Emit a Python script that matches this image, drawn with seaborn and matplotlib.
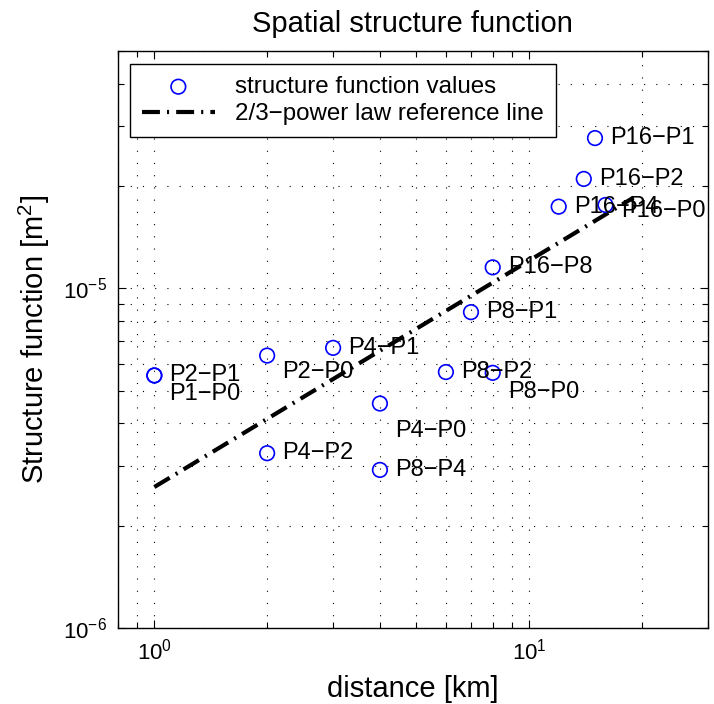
import numpy as np
import pandas as pd
import matplotlib
matplotlib.use("Agg")
import matplotlib.pyplot as plt
from matplotlib.ticker import NullFormatter
import seaborn as sns

# === Data ===
pair_labels = ["P2−P1", "P1−P0", "P2−P0", "P4−P2", "P4−P1", "P4−P0", "P8−P4",
               "P8−P2", "P8−P1", "P8−P0", "P16−P8", "P16−P4", "P16−P2",
               "P16−P1", "P16−P0"]
distance_km = [1, 1, 2, 2, 3, 4, 4, 6, 7, 8, 8, 12, 14, 15, 16]
structure_fn = [5.54e-6, 5.54e-6, 6.34e-6, 3.27e-6, 6.68e-6, 4.58e-6, 2.92e-6,
                5.67e-6, 8.51e-6, 5.64e-6, 1.153e-5, 1.74e-5, 2.10e-5,
                2.77e-5, 1.76e-5]

# 2/3 power law reference line (end points)
ref_x = [1, 19]
ref_y = [2.6e-6, 1.85e-5]

# label nudges in points (dx, dy), to keep overlapping labels readable
label_nudge = {
    "P1−P0": (11, -13),
    "P2−P0": (11, -12),
    "P4−P0": (11, -20),
    "P8−P0": (11, -14),
    "P16−P0": (11, -4),
}

df = pd.DataFrame({"pair": pair_labels, "distance": distance_km,
                   "sf": structure_fn})
df_ref = pd.DataFrame({"distance": ref_x, "sf": ref_y})

# === Plot ===
sns.set_style("ticks")
plt.rcParams["font.family"] = ["Liberation Sans", "DejaVu Sans"]
plt.rcParams["mathtext.fontset"] = "custom"
plt.rcParams["mathtext.rm"] = "Liberation Sans"
plt.rcParams["text.color"] = "black"
plt.rcParams["axes.labelcolor"] = "black"

fig = plt.figure(figsize=(7.14, 7.04), dpi=100)
ax = fig.add_axes([0.1653, 0.108, 0.826, 0.8196])
ax.set_xscale("log")
ax.set_yscale("log")

sns.scatterplot(data=df, x="distance", y="sf", ax=ax, marker="o", s=110,
                facecolors="none", edgecolor="blue", linewidth=1.2,
                label="structure function values", zorder=3)
sns.lineplot(data=df_ref, x="distance", y="sf", ax=ax, color="black",
             linewidth=3, linestyle=(0, (4.3, 1.7, 0.5, 1.7)),
             label="2/3−power law reference line", zorder=2)

for lab, xv, yv in zip(pair_labels, distance_km, structure_fn):
    dx, dy = label_nudge.get(lab, (11, 0))
    ax.annotate(lab, (xv, yv), xytext=(dx, dy), textcoords="offset points",
                ha="left", va="center", fontsize=17, color="black", zorder=4)

ax.set_xlim(0.8, 30)
ax.set_ylim(1e-6, 5e-5)

ax.grid(True, which="both", linestyle=(0, (1, 10)), color="black",
        linewidth=0.8)
ax.tick_params(which="both", direction="in", top=True, right=True,
               labelsize=16, colors="black")
ax.tick_params(which="major", length=6, width=0.8, pad=8)
ax.tick_params(which="minor", length=4, width=0.8)
ax.xaxis.set_minor_formatter(NullFormatter())
ax.yaxis.set_minor_formatter(NullFormatter())
for sp in ax.spines.values():
    sp.set_color("black")
    sp.set_linewidth(1.0)

leg = ax.legend(loc="upper left", bbox_to_anchor=(0.0203, 0.9775),
                fontsize=17.4, frameon=True, fancybox=False,
                handlelength=3.0, borderpad=0.5, labelspacing=0.22,
                handletextpad=0.85, borderaxespad=0)
leg.get_frame().set_edgecolor("black")
leg.get_frame().set_linewidth(1.0)
leg.get_frame().set_alpha(1)
for t in leg.get_texts():
    t.set_color("black")

ax.set_title("Spatial structure function", fontsize=21, pad=14, color="black")
ax.set_xlabel("distance [km]", fontsize=21, labelpad=7)
ax.set_ylabel("Structure function [m$^2$]", fontsize=21, labelpad=8)

fig.savefig("out.png", dpi=100)
plt.close(fig)
